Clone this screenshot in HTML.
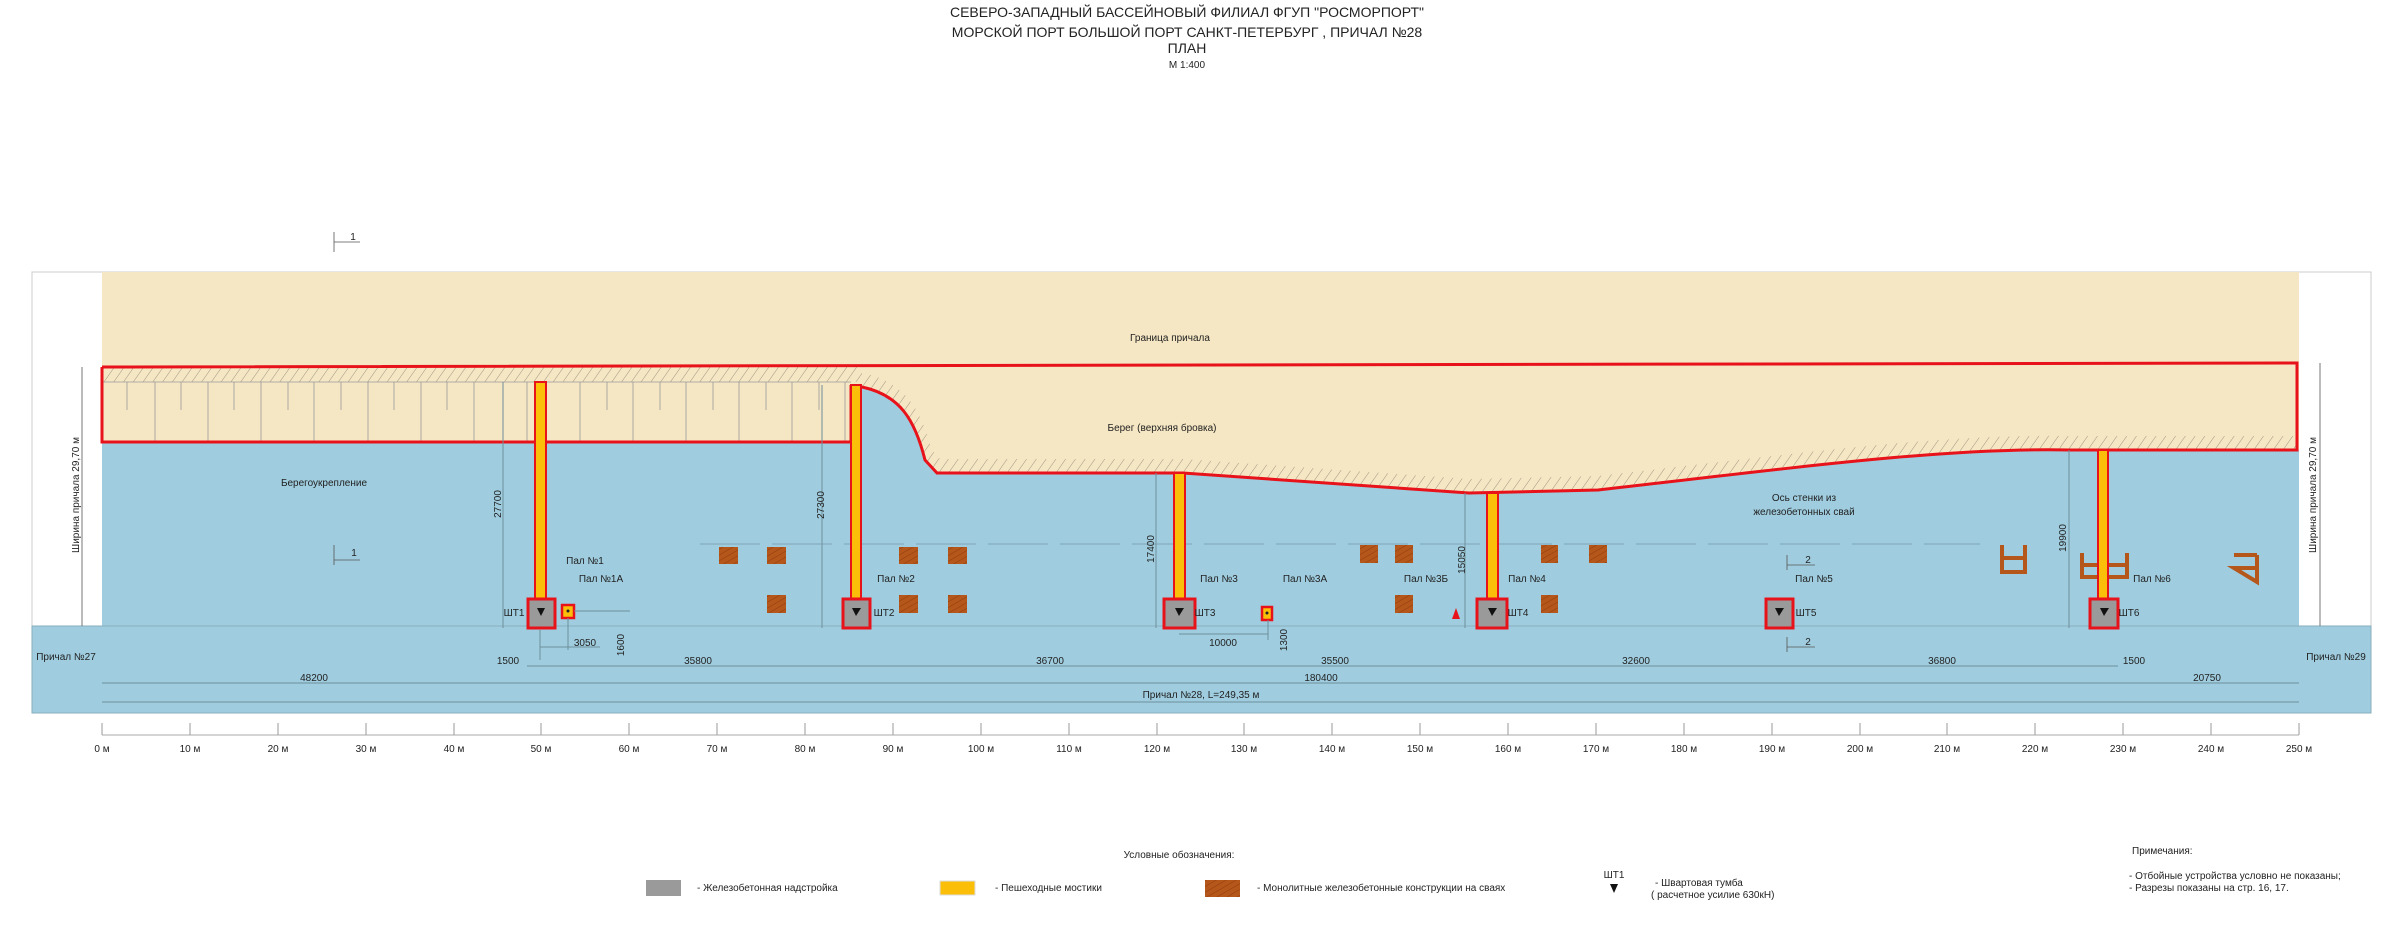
<!DOCTYPE html>
<html><head><meta charset="utf-8"><style>
html,body{margin:0;padding:0;background:#fff}
svg{display:block}
text{font-family:"Liberation Sans",sans-serif;fill:#222}
.s{font-size:10px}
.m{font-size:11px}
</style></head><body>
<svg width="2400" height="927" viewBox="0 0 2400 927" xmlns="http://www.w3.org/2000/svg">
<defs>
<pattern id="h" width="8" height="8" patternUnits="userSpaceOnUse" patternTransform="rotate(35)">
<line x1="0" y1="0" x2="0" y2="8" stroke="#8a8070" stroke-width="0.8"/>
</pattern>
<pattern id="b" width="5" height="5" patternUnits="userSpaceOnUse" patternTransform="rotate(60)">
<rect width="5" height="5" fill="#b5561a"/><line x1="0" y1="0" x2="0" y2="5" stroke="#8e3d0e" stroke-width="1"/>
</pattern>
</defs>

<!-- title -->
<g text-anchor="middle">
<text x="1187" y="17" font-size="14">СЕВЕРО-ЗАПАДНЫЙ БАССЕЙНОВЫЙ ФИЛИАЛ ФГУП "РОСМОРПОРТ"</text>
<text x="1187" y="37" font-size="14">МОРСКОЙ ПОРТ  БОЛЬШОЙ ПОРТ САНКТ-ПЕТЕРБУРГ , ПРИЧАЛ №28</text>
<text x="1187" y="53" font-size="14">ПЛАН</text>
<text x="1187" y="68" font-size="10">М 1:400</text>
</g>

<!-- frame -->
<rect x="32" y="272" width="2339" height="441" fill="#fff" stroke="#ccc" stroke-width="1"/>
<rect x="102" y="272" width="2197" height="354" fill="#f5e7c4"/>
<!-- hatch band on left pier -->
<rect x="102" y="367" width="760" height="15" fill="url(#h)"/>
<!-- shore hatch -->
<path d="M862,380 C900,388 915,413 925,453 L937,466 L1183,466 L1469,486 L1598,483 C1800,460 1950,440 2071,443 L2297,443" fill="none" stroke="url(#h)" stroke-width="14"/>
<!-- pile lines -->
<g stroke="#999" stroke-width="0.8">
<line x1="102" y1="382" x2="851" y2="382"/>
<line x1="127" y1="382" x2="127" y2="410"/><line x1="155" y1="382" x2="155" y2="442"/>
<line x1="181" y1="382" x2="181" y2="410"/><line x1="208" y1="382" x2="208" y2="442"/>
<line x1="234" y1="382" x2="234" y2="410"/><line x1="261" y1="382" x2="261" y2="442"/>
<line x1="288" y1="382" x2="288" y2="410"/><line x1="314" y1="382" x2="314" y2="442"/>
<line x1="341" y1="382" x2="341" y2="410"/><line x1="368" y1="382" x2="368" y2="442"/>
<line x1="394" y1="382" x2="394" y2="410"/><line x1="421" y1="382" x2="421" y2="442"/>
<line x1="447" y1="382" x2="447" y2="410"/><line x1="474" y1="382" x2="474" y2="442"/>
<line x1="527" y1="382" x2="527" y2="442"/><line x1="580" y1="382" x2="580" y2="442"/>
<line x1="607" y1="382" x2="607" y2="410"/><line x1="633" y1="382" x2="633" y2="442"/>
<line x1="660" y1="382" x2="660" y2="410"/><line x1="686" y1="382" x2="686" y2="442"/>
<line x1="713" y1="382" x2="713" y2="410"/><line x1="739" y1="382" x2="739" y2="442"/>
<line x1="766" y1="382" x2="766" y2="410"/><line x1="792" y1="382" x2="792" y2="442"/>
<line x1="819" y1="382" x2="819" y2="410"/><line x1="845" y1="382" x2="845" y2="442"/>
</g>
<!-- water -->
<path d="M102,442 L851,442 L851,387 L862,387 C900,395 915,420 925,460 L937,473 L1183,473 L1469,493 L1598,490 C1800,467 1950,447 2071,450 L2299,450 L2299,626 L102,626 Z" fill="#9fcddf"/>
<rect x="32" y="626" width="2339" height="87" fill="#9fcddf" stroke="#8aaebb" stroke-width="1"/>
<!-- red borders -->
<path d="M102,367 L2297,363 L2297,450 L2071,450 C1950,447 1800,467 1598,490 L1469,493 L1183,473 L937,473 L925,460 C915,420 900,395 862,387 L851,387" fill="none" stroke="#e8121b" stroke-width="3"/>
<path d="M851,385 L851,442 L102,442 L102,367" fill="none" stroke="#e8121b" stroke-width="3"/>

<!-- dashed axis -->
<line x1="700" y1="544" x2="1980" y2="544" stroke="#7fa5b5" stroke-width="1" stroke-dasharray="60,12"/>

<!-- brown blocks -->
<g fill="url(#b)">
<rect x="719" y="547" width="19" height="17"/><rect x="767" y="547" width="19" height="17"/>
<rect x="899" y="547" width="19" height="17"/><rect x="948" y="547" width="19" height="17"/>
<rect x="767" y="595" width="19" height="18"/><rect x="899" y="595" width="19" height="18"/><rect x="948" y="595" width="19" height="18"/>
<rect x="1360" y="545" width="18" height="18"/><rect x="1395" y="545" width="18" height="18"/>
<rect x="1541" y="545" width="17" height="18"/><rect x="1589" y="545" width="18" height="18"/>
<rect x="1395" y="595" width="18" height="18"/><rect x="1541" y="595" width="17" height="18"/>
</g>
<g fill="none" stroke="#b5561a" stroke-width="4">
<path d="M2002,545 L2002,572 L2025,572 L2025,545 M2002,558 L2025,558"/>
<path d="M2082,553 L2082,577 L2127,577 L2127,553 M2082,565 L2127,565"/>
<path d="M2257,555 L2257,582 L2234,568 L2257,568 M2234,555 L2257,555"/>
</g>

<!-- walkways -->
<g fill="#fbbf0a" stroke="#e8121b" stroke-width="2">
<rect x="535" y="382" width="11" height="220"/>
<rect x="851" y="385" width="10" height="217"/>
<rect x="1174" y="473" width="11" height="129"/>
<rect x="1487" y="493" width="11" height="109"/>
<rect x="2098" y="450" width="10" height="152"/>
</g>
<!-- bollard boxes -->
<g fill="#9a9a9a" stroke="#e8121b" stroke-width="3">
<rect x="528" y="599" width="27" height="29"/>
<rect x="843" y="599" width="27" height="29"/>
<rect x="1164" y="599" width="31" height="29"/>
<rect x="1477" y="599" width="30" height="29"/>
<rect x="1766" y="599" width="27" height="29"/>
<rect x="2090" y="599" width="28" height="29"/>
</g>
<g fill="#fbbf0a" stroke="#e8121b" stroke-width="2.5">
<rect x="562" y="605" width="12" height="13"/>
<rect x="1262" y="607" width="10" height="13"/>
</g>
<circle cx="568" cy="611" r="1.5" fill="#222"/><circle cx="1267" cy="613" r="1.5" fill="#222"/>
<path d="M1452,619 L1456,608 L1460,619 Z" fill="#e8121b"/>
<g fill="#111">
<path d="M537,608 L545,608 L541,616Z"/><path d="M852,608 L861,608 L856,616Z"/>
<path d="M1175,608 L1184,608 L1179,616Z"/><path d="M1488,608 L1497,608 L1492,616Z"/>
<path d="M1775,608 L1784,608 L1779,616Z"/><path d="M2100,608 L2109,608 L2104,616Z"/>
</g>

<!-- dimension lines -->
<g stroke="#6f8e9a" stroke-width="1" fill="none">
<line x1="527" y1="666" x2="2118" y2="666"/>
<line x1="102" y1="683" x2="2299" y2="683"/>
<line x1="102" y1="702" x2="2299" y2="702"/>
<line x1="503" y1="382" x2="503" y2="628"/>
<line x1="822" y1="385" x2="822" y2="628"/>
<line x1="1156" y1="473" x2="1156" y2="628"/>
<line x1="1465" y1="493" x2="1465" y2="628"/>
<line x1="2069" y1="450" x2="2069" y2="628"/>
<line x1="540" y1="630" x2="540" y2="660"/>
<line x1="568" y1="618" x2="568" y2="650"/>
<line x1="540" y1="647" x2="600" y2="647"/>
<line x1="574" y1="611" x2="630" y2="611"/>
<line x1="1179" y1="634" x2="1268" y2="634"/>
<line x1="1268" y1="620" x2="1268" y2="640"/>
</g>
<g stroke="#555" stroke-width="0.8">
<line x1="82" y1="367" x2="82" y2="626"/>
<line x1="2320" y1="363" x2="2320" y2="626"/>
<line x1="334" y1="232" x2="334" y2="252"/><line x1="334" y1="242" x2="360" y2="242"/>
<line x1="334" y1="545" x2="334" y2="565"/><line x1="334" y1="560" x2="360" y2="560"/>
<line x1="1787" y1="555" x2="1787" y2="570"/><line x1="1787" y1="565" x2="1815" y2="565"/>
<line x1="1787" y1="637" x2="1787" y2="652"/><line x1="1787" y1="647" x2="1815" y2="647"/>
</g>

<!-- labels -->
<g class="s" text-anchor="middle">
<text x="353" y="240">1</text><text x="354" y="556">1</text>
<text x="1808" y="563">2</text><text x="1808" y="645">2</text>
<text x="1170" y="341">Граница причала</text>
<text x="1162" y="431">Берег (верхняя бровка)</text>
<text x="324" y="486">Берегоукрепление</text>
<text x="1804" y="501">Ось стенки из</text>
<text x="1804" y="515">железобетонных свай</text>
<text x="585" y="564">Пал №1</text><text x="601" y="582">Пал №1А</text>
<text x="896" y="582">Пал №2</text><text x="1219" y="582">Пал №3</text>
<text x="1305" y="582">Пал №3А</text><text x="1426" y="582">Пал №3Б</text>
<text x="1527" y="582">Пал №4</text><text x="1814" y="582">Пал №5</text>
<text x="2152" y="582">Пал №6</text>
<text x="514" y="616">ШТ1</text><text x="884" y="616">ШТ2</text><text x="1205" y="616">ШТ3</text>
<text x="1518" y="616">ШТ4</text><text x="1806" y="616">ШТ5</text><text x="2129" y="616">ШТ6</text>
<text x="508" y="664">1500</text><text x="698" y="664">35800</text><text x="1050" y="664">36700</text>
<text x="1335" y="664">35500</text><text x="1636" y="664">32600</text><text x="1942" y="664">36800</text>
<text x="2134" y="664">1500</text>
<text x="314" y="681">48200</text><text x="1321" y="681">180400</text><text x="2207" y="681">20750</text>
<text x="1201" y="698">Причал №28, L=249,35 м</text>
<text x="585" y="646">3050</text><text x="1223" y="646">10000</text>
<text x="66" y="660">Причал №27</text><text x="2336" y="660">Причал №29</text>
<text transform="translate(501,504) rotate(-90)">27700</text>
<text transform="translate(824,505) rotate(-90)">27300</text>
<text transform="translate(1154,549) rotate(-90)">17400</text>
<text transform="translate(1465,560) rotate(-90)">15050</text>
<text transform="translate(2066,538) rotate(-90)">19900</text>
<text transform="translate(624,645) rotate(-90)">1600</text>
<text transform="translate(1287,640) rotate(-90)">1300</text>
<text transform="translate(79,495) rotate(-90)">Ширина причала 29,70 м</text>
<text transform="translate(2316,495) rotate(-90)">Ширина причала 29,70 м</text>
</g>

<!-- ruler -->
<g stroke="#aaa" stroke-width="1">
<line x1="102" y1="735" x2="2299" y2="735"/>
</g>
<g id="ruler" stroke="#aaa" stroke-width="1.2">
<line x1="102" y1="723" x2="102" y2="735"/><line x1="190" y1="723" x2="190" y2="735"/><line x1="278" y1="723" x2="278" y2="735"/><line x1="366" y1="723" x2="366" y2="735"/><line x1="454" y1="723" x2="454" y2="735"/><line x1="541" y1="723" x2="541" y2="735"/><line x1="629" y1="723" x2="629" y2="735"/><line x1="717" y1="723" x2="717" y2="735"/><line x1="805" y1="723" x2="805" y2="735"/><line x1="893" y1="723" x2="893" y2="735"/><line x1="981" y1="723" x2="981" y2="735"/><line x1="1069" y1="723" x2="1069" y2="735"/><line x1="1157" y1="723" x2="1157" y2="735"/><line x1="1244" y1="723" x2="1244" y2="735"/><line x1="1332" y1="723" x2="1332" y2="735"/><line x1="1420" y1="723" x2="1420" y2="735"/><line x1="1508" y1="723" x2="1508" y2="735"/><line x1="1596" y1="723" x2="1596" y2="735"/><line x1="1684" y1="723" x2="1684" y2="735"/><line x1="1772" y1="723" x2="1772" y2="735"/><line x1="1860" y1="723" x2="1860" y2="735"/><line x1="1947" y1="723" x2="1947" y2="735"/><line x1="2035" y1="723" x2="2035" y2="735"/><line x1="2123" y1="723" x2="2123" y2="735"/><line x1="2211" y1="723" x2="2211" y2="735"/><line x1="2299" y1="723" x2="2299" y2="735"/>
</g>
<g class="s" text-anchor="middle">
<text x="102" y="752">0 м</text><text x="190" y="752">10 м</text><text x="278" y="752">20 м</text><text x="366" y="752">30 м</text><text x="454" y="752">40 м</text><text x="541" y="752">50 м</text><text x="629" y="752">60 м</text><text x="717" y="752">70 м</text><text x="805" y="752">80 м</text><text x="893" y="752">90 м</text><text x="981" y="752">100 м</text><text x="1069" y="752">110 м</text><text x="1157" y="752">120 м</text><text x="1244" y="752">130 м</text><text x="1332" y="752">140 м</text><text x="1420" y="752">150 м</text><text x="1508" y="752">160 м</text><text x="1596" y="752">170 м</text><text x="1684" y="752">180 м</text><text x="1772" y="752">190 м</text><text x="1860" y="752">200 м</text><text x="1947" y="752">210 м</text><text x="2035" y="752">220 м</text><text x="2123" y="752">230 м</text><text x="2211" y="752">240 м</text><text x="2299" y="752">250 м</text>
</g>

<!-- legend -->
<text class="s" x="1179" y="858" text-anchor="middle">Условные обозначения:</text>
<rect x="646" y="880" width="35" height="16" fill="#9a9a9a"/>
<text class="s" x="697" y="891">- Железобетонная надстройка</text>
<rect x="940" y="881" width="35" height="14" fill="#fbbf0a" stroke="#ddd"/>
<text class="s" x="995" y="891">-  Пешеходные мостики</text>
<rect x="1205" y="880" width="35" height="17" fill="url(#b)"/>
<text class="s" x="1257" y="891">- Монолитные железобетонные конструкции на сваях</text>
<text class="s" x="1614" y="878" text-anchor="middle">ШТ1</text>
<path d="M1610,884 L1618,884 L1614,893Z" fill="#111"/>
<text class="s" x="1655" y="886">-  Швартовая тумба</text>
<text class="s" x="1651" y="898">( расчетное усилие 630кН)</text>
<text class="s" x="2132" y="854">Примечания:</text>
<text class="s" x="2129" y="879">- Отбойные устройства условно не показаны;</text>
<text class="s" x="2129" y="891">- Разрезы показаны на стр. 16, 17.</text>
</svg>
</body></html>
